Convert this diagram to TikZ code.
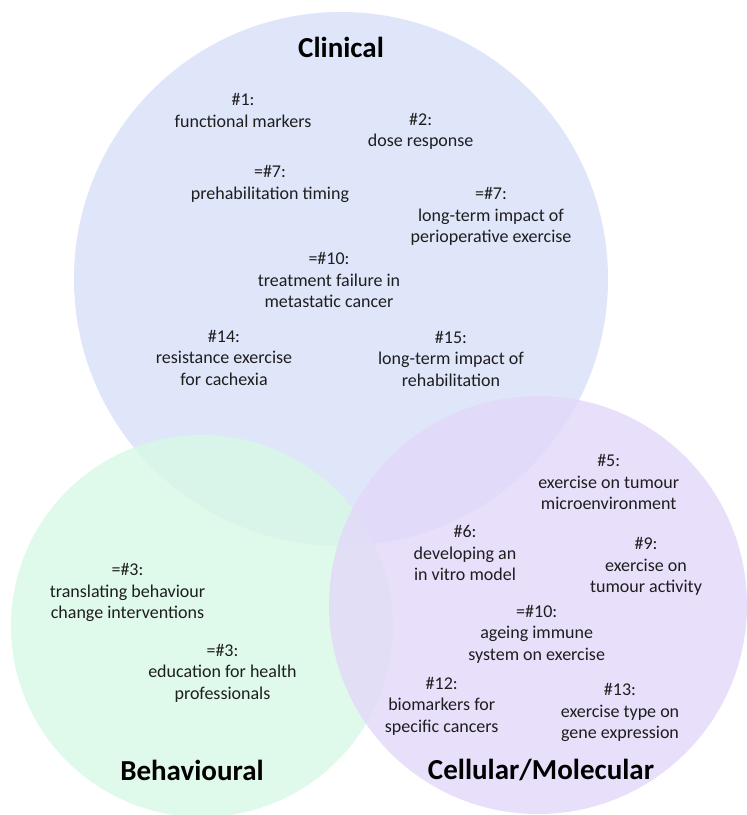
\documentclass[tikz,border=0pt]{standalone}
\usepackage{fontspec}
\setmainfont{Carlito}
\definecolor{clin}{RGB}{216,224,249}
\definecolor{behav}{RGB}{216,249,231}
\definecolor{cell}{RGB}{227,216,249}
\definecolor{txt}{RGB}{30,30,30}
\tikzset{
  setcircle/.style={fill opacity=0.8, draw=none},
  item/.style={align=center, inner sep=0pt, text=txt, font=\fontsize{18}{21.5}\selectfont},
  settitle/.style={anchor=base, inner sep=0pt, text=black, font=\fontsize{29}{32}\selectfont\bfseries}
}
\begin{document}
\begin{tikzpicture}[x=1pt,y=-1pt]
\useasboundingbox (0,0) rectangle (747,815);
\fill[white] (0,0) rectangle (747,815);
\fill[clin, setcircle] (341,279) circle[radius=267pt];
\fill[behav, setcircle] (202,626) circle[radius=191pt];
\fill[cell, setcircle] (538,605) circle[radius=209pt];

\node[settitle] (tclin) at (341,57) {Clinical};
\node[settitle] (tbeh) at (192,780) {Behavioural};
\node[settitle] (tcell) at (541,779) {Cellular/Molecular};

\node[item] (c1) at (243,110.5) {\#1:\\functional markers};
\node[item] (c2) at (420.7,131.5) {\#2:\\dose response};
\node[item] (c7a) at (270,184) {=\#7:\\prehabilitation timing};
\node[item] (c7b) at (491,216.7) {=\#7:\\long-term impact of\\perioperative exercise};
\node[item] (c10) at (329,280) {=\#10:\\treatment failure in\\metastatic cancer};
\node[item] (c14) at (224,357.7) {\#14:\\resistance exercise\\for cachexia};
\node[item] (c15) at (451,358.8) {\#15:\\long-term impact of\\rehabilitation};

\node[item] (m5) at (608.7,482) {\#5:\\exercise on tumour\\microenvironment};
\node[item] (m6) at (465,553) {\#6:\\developing an\\in vitro model};
\node[item] (m9) at (646,566.7) {\#9:\\exercise on\\tumour activity};
\node[item] (m10) at (536.7,634) {=\#10:\\ageing immune\\system on exercise};
\node[item] (m12) at (441.7,706) {\#12:\\biomarkers for\\specific cancers};
\node[item] (m13) at (620,712.5) {\#13:\\exercise type on\\gene expression};

\node[item] (b3a) at (127.5,592.5) {=\#3:\\translating behaviour\\change interventions};
\node[item] (b3b) at (222.5,673) {=\#3:\\education for health\\professionals};
\end{tikzpicture}
\end{document}
